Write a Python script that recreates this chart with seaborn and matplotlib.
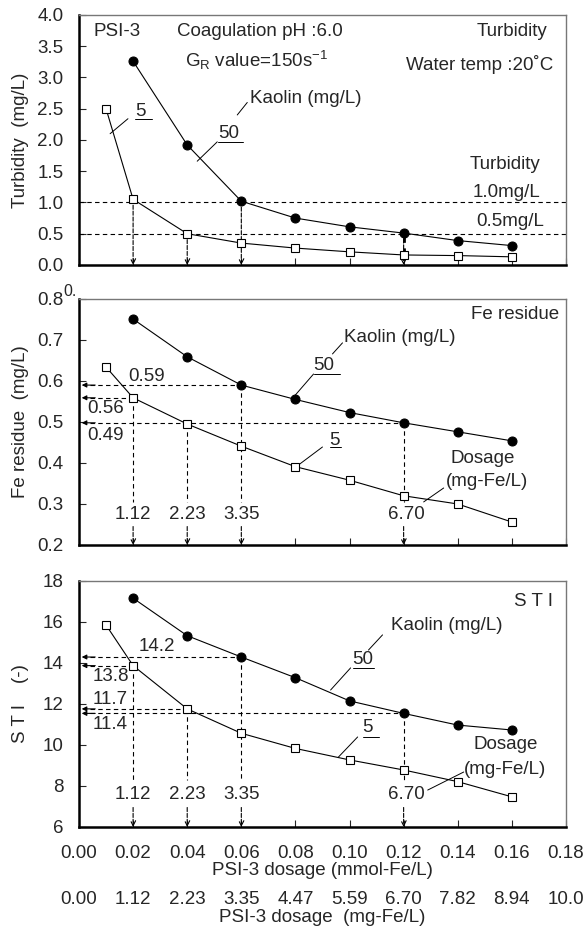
import matplotlib
matplotlib.use("Agg")
import matplotlib.pyplot as plt
import seaborn as sns

# PSI-3 dosage (mmol-Fe/L) of each measured point
dose_k50 = [0.02, 0.04, 0.06, 0.08, 0.10, 0.12, 0.14, 0.16]
dose_k5 = [0.01, 0.02, 0.04, 0.06, 0.08, 0.10, 0.12, 0.14, 0.16]

# turbidity (mg/L)
turb_k50 = [3.26, 1.92, 1.02, 0.75, 0.61, 0.51, 0.39, 0.31]
turb_k5 = [2.50, 1.05, 0.50, 0.35, 0.27, 0.21, 0.16, 0.15, 0.13]

# Fe residue (mg/L)
fe_k50 = [0.751, 0.659, 0.590, 0.555, 0.523, 0.498, 0.476, 0.454]
fe_k5 = [0.634, 0.559, 0.495, 0.441, 0.391, 0.358, 0.320, 0.300, 0.256]

# STI (-)
sti_k50 = [17.16, 15.33, 14.29, 13.28, 12.15, 11.54, 10.97, 10.73]
sti_k5 = [15.85, 13.87, 11.76, 10.57, 9.83, 9.27, 8.78, 8.21, 7.47]

# marked dosages and the curve each arrow starts from
mark_dose = [0.02, 0.04, 0.06, 0.12]
mark_curve = ["k5", "k5", "k50", "k50"]
mark_labels = ["1.12", "2.23", "3.35", "6.70"]

mmol_ticks = [0.00, 0.02, 0.04, 0.06, 0.08, 0.10, 0.12, 0.14, 0.16, 0.18]
mmol_labels = ["0.00", "0.02", "0.04", "0.06", "0.08", "0.10", "0.12", "0.14", "0.16", "0.18"]
mg_labels = ["0.00", "1.12", "2.23", "3.35", "4.47", "5.59", "6.70", "7.82", "8.94", "10.0"]

turb_limits = [1.0, 0.5]
fe_hlines = [(0.06, "k50", "0.59"), (0.02, "k5", "0.56"), (0.12, "k50", "0.49")]
sti_hlines = [(0.06, "k50", "14.2"), (0.02, "k5", "13.8"), (0.04, "k5", "11.7"), (0.12, "k50", "11.4")]

sns.set_style("ticks")
plt.rcParams["font.family"] = ["Liberation Sans", "DejaVu Sans"]
plt.rcParams["mathtext.fontset"] = "custom"
plt.rcParams["mathtext.rm"] = "Liberation Sans"
plt.rcParams["mathtext.it"] = "Liberation Sans"
FS = 13.5
DASH = (0, (4, 3))

fig = plt.figure(figsize=(5.86, 9.3), dpi=100)
ax1 = fig.add_axes([0.1348, 0.7151, 0.831, 0.2688])
ax2 = fig.add_axes([0.1348, 0.4140, 0.831, 0.2645])
ax3 = fig.add_axes([0.1348, 0.1108, 0.831, 0.2645])


def val(curves, curve, x):
    xs, ys = curves[curve]
    return ys[xs.index(x)]


def draw_curves(ax, y50, y5):
    sns.lineplot(x=dose_k50, y=y50, ax=ax, color="black", lw=0.8, marker="o",
                 markersize=6.5, markeredgecolor="black", zorder=4)
    sns.lineplot(x=dose_k5, y=y5, ax=ax, color="black", lw=0.8, marker="s",
                 markersize=6, markerfacecolor="white", markeredgecolor="black",
                 markeredgewidth=0.8, zorder=4)


def style_axes(ax, ylim, yticks, ylabel):
    ax.set_xlim(0, 0.18)
    ax.set_ylim(*ylim)
    ax.set_xticks(mmol_ticks)
    ax.set_yticks(yticks)
    ax.tick_params(direction="in", length=5, width=0.8, labelsize=FS, pad=11)
    for side in ["left", "bottom"]:
        ax.spines[side].set_linewidth(1.8)
        ax.spines[side].set_color("black")
    for side in ["top", "right"]:
        ax.spines[side].set_visible(True)
        ax.spines[side].set_linewidth(1.0)
        ax.spines[side].set_color("#777777")
    ax.set_ylabel(ylabel, fontsize=FS)
    ax.yaxis.set_label_coords(-0.103, 0.5)


def down_arrow(ax, x, y0, y1):
    ax.annotate("", xy=(x, y1), xytext=(x, y0),
                arrowprops=dict(arrowstyle="->", lw=0.8, ls="--", color="black",
                                shrinkA=0, shrinkB=0, mutation_scale=9), zorder=2)


def left_arrow(ax, x, y):
    ax.plot([0.004, x], [y, y], color="black", lw=0.8, ls=DASH, zorder=2)
    ax.annotate("", xy=(0.001, y), xytext=(0.006, y),
                arrowprops=dict(arrowstyle="-|>", lw=0.8, color="black",
                                shrinkA=0, shrinkB=0, mutation_scale=7), zorder=2)


def leader(ax, p0, p1):
    ax.plot([p0[0], p1[0]], [p0[1], p1[1]], color="black", lw=0.7, zorder=3)


def under_label(ax, text, x, y, x_end, y_line):
    ax.text(x, y, text, fontsize=FS, ha="left", va="center")
    ax.plot([x, x_end], [y_line, y_line], color="black", lw=0.7)


# ---- turbidity ----
draw_curves(ax1, turb_k50, turb_k5)
style_axes(ax1, (0, 4.0), [0, 0.5, 1.0, 1.5, 2.0, 2.5, 3.0, 3.5, 4.0], "Turbidity  (mg/L)")
ax1.yaxis.set_major_formatter(matplotlib.ticker.FormatStrFormatter("%.1f"))
ax1.set_xticklabels([])
ax1.set_xlabel("")
turb_curves = {"k50": (dose_k50, turb_k50), "k5": (dose_k5, turb_k5)}
for lim in turb_limits:
    ax1.axhline(lim, color="black", lw=0.8, ls=DASH, zorder=1)
for x, c in zip(mark_dose, mark_curve):
    down_arrow(ax1, x, val(turb_curves, c, x), 0.0)
ax1.plot([0.12, 0.12], [0.5, 0.12], color="black", lw=2.0, ls=(0, (3, 2)), zorder=2)

ax1.text(0.0052, 3.74, "PSI-3", fontsize=FS, va="center")
ax1.text(0.0363, 3.74, "Coagulation pH :6.0", fontsize=FS, va="center")
ax1.text(0.0393, 3.27, r"G$_\mathrm{R}$ value=150s$^{-1}$", fontsize=FS, va="center")
ax1.text(0.1733, 3.74, "Turbidity", fontsize=FS, va="center", ha="right")
ax1.text(0.1752, 3.21, "Water temp :20˚C", fontsize=FS, va="center", ha="right")
ax1.text(0.0633, 2.66, "Kaolin (mg/L)", fontsize=FS, va="center")
leader(ax1, (0.0622, 2.60), (0.0585, 2.40))
under_label(ax1, "50", 0.0515, 2.10, 0.0607, 1.97)
leader(ax1, (0.0511, 1.97), (0.0437, 1.66))
under_label(ax1, "5", 0.0207, 2.45, 0.027, 2.34)
leader(ax1, (0.0181, 2.34), (0.0115, 2.10))
ax1.text(0.1707, 1.61, "Turbidity", fontsize=FS, va="center", ha="right")
ax1.text(0.1707, 1.16, "1.0mg/L", fontsize=FS, va="center", ha="right")
ax1.text(0.1719, 0.69, "0.5mg/L", fontsize=FS, va="center", ha="right")

# ---- Fe residue ----
draw_curves(ax2, fe_k50, fe_k5)
style_axes(ax2, (0.2, 0.8), [0.2, 0.3, 0.4, 0.5, 0.6, 0.7, 0.8], "Fe residue  (mg/L)")
ax2.yaxis.set_major_formatter(matplotlib.ticker.FormatStrFormatter("%.1f"))
ax2.set_xticklabels([])
ax2.set_xlabel("")
fe_curves = {"k50": (dose_k50, fe_k50), "k5": (dose_k5, fe_k5)}
for x, c, lab in fe_hlines:
    left_arrow(ax2, x, val(fe_curves, c, x))
for x, c, lab in zip(mark_dose, mark_curve, mark_labels):
    ax2.plot([x, x], [val(fe_curves, c, x), 0.305], color="black", lw=0.8, ls=DASH, zorder=2)
    down_arrow(ax2, x, 0.245, 0.2)
    ax2.text(x + (0.001 if lab == "6.70" else 0), 0.275, lab, fontsize=FS,
             ha="center", va="center")
ax2.text(0.0181, 0.61, "0.59", fontsize=FS, va="center")
ax2.text(0.003, 0.534, "0.56", fontsize=FS, va="center")
ax2.text(0.003, 0.466, "0.49", fontsize=FS, va="center")
ax2.text(-0.0058, 0.818, "0.", fontsize=FS - 2, va="center", clip_on=False)
ax2.text(0.1774, 0.761, "Fe residue", fontsize=FS, va="center", ha="right")
ax2.text(0.0978, 0.707, "Kaolin (mg/L)", fontsize=FS, va="center")
leader(ax2, (0.0974, 0.693), (0.0937, 0.666))
under_label(ax2, "50", 0.0867, 0.637, 0.0963, 0.617)
leader(ax2, (0.0867, 0.617), (0.0800, 0.566))
under_label(ax2, "5", 0.0926, 0.456, 0.097, 0.439)
leader(ax2, (0.0900, 0.439), (0.0811, 0.395))
ax2.text(0.1493, 0.41, "Dosage", fontsize=FS, va="center", ha="center")
ax2.text(0.1507, 0.354, "(mg-Fe/L)", fontsize=FS, va="center", ha="center")
leader(ax2, (0.1348, 0.339), (0.1274, 0.305))

# ---- STI ----
draw_curves(ax3, sti_k50, sti_k5)
style_axes(ax3, (6, 18), [6, 8, 10, 12, 14, 16, 18], "S T I    (-)")
sti_curves = {"k50": (dose_k50, sti_k50), "k5": (dose_k5, sti_k5)}
for x, c, lab in sti_hlines:
    left_arrow(ax3, x, val(sti_curves, c, x))
for x, c, lab in zip(mark_dose, mark_curve, mark_labels):
    ax3.plot([x, x], [val(sti_curves, c, x), 8.3], color="black", lw=0.8, ls=DASH, zorder=2)
    down_arrow(ax3, x, 6.95, 6.0)
    ax3.text(x + (0.001 if lab == "6.70" else 0), 7.56, lab, fontsize=FS,
             ha="center", va="center")
ax3.text(0.0219, 14.78, "14.2", fontsize=FS, va="center")
ax3.text(0.0052, 13.32, "13.8", fontsize=FS, va="center")
ax3.text(0.0052, 12.24, "11.7", fontsize=FS, va="center")
ax3.text(0.0052, 10.98, "11.4", fontsize=FS, va="center")
ax3.text(0.1752, 16.98, "S T I", fontsize=FS, va="center", ha="right")
ax3.text(0.1152, 15.85, "Kaolin (mg/L)", fontsize=FS, va="center")
leader(ax3, (0.1122, 15.37), (0.1070, 14.63))
under_label(ax3, "50", 0.1011, 14.15, 0.1089, 13.76)
leader(ax3, (0.1004, 13.76), (0.0930, 12.68))
under_label(ax3, "5", 0.1048, 10.83, 0.111, 10.39)
leader(ax3, (0.1030, 10.39), (0.0959, 9.41))
ax3.text(0.1578, 10.0, "Dosage", fontsize=FS, va="center", ha="center")
ax3.text(0.1574, 8.78, "(mg-Fe/L)", fontsize=FS, va="center", ha="center")
leader(ax3, (0.1422, 8.68), (0.1289, 7.80))

ax3.set_xticklabels(mmol_labels)
ax3.tick_params(axis="x", pad=13)
ax3.set_xlabel("PSI-3 dosage (mmol-Fe/L)", fontsize=FS, labelpad=0)

sec = ax3.secondary_xaxis(-0.243)
sec.set_xticks(mmol_ticks)
sec.set_xticklabels(mg_labels)
sec.tick_params(length=0, labelsize=FS, pad=3)
sec.spines["bottom"].set_visible(False)
sec.set_xlabel("PSI-3 dosage  (mg-Fe/L)", fontsize=FS, labelpad=1)

fig.savefig("out.png", dpi=100)
